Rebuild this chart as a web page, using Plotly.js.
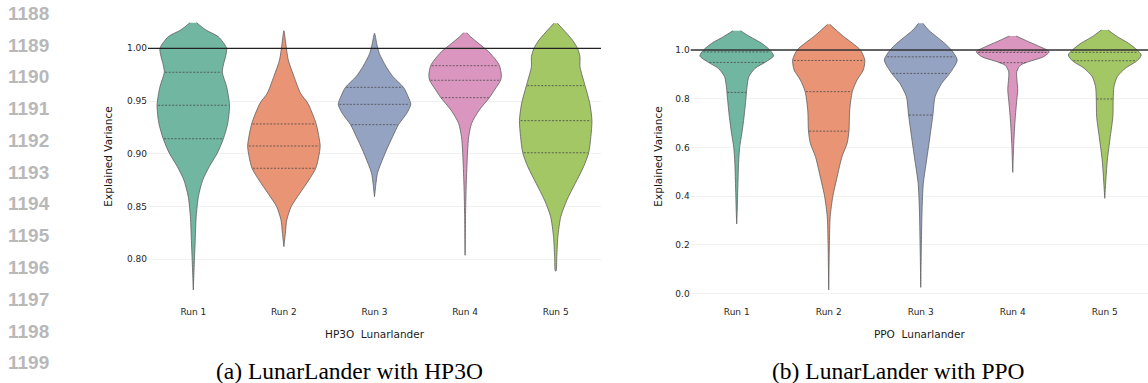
<!DOCTYPE html>
<html><head><meta charset="utf-8">
<script src="https://cdn.plot.ly/plotly-3.0.1.min.js"></script>
<style>html,body{margin:0;padding:0;background:#fff}</style>
</head><body><div id="chart" style="width:1148px;height:383px"></div>
<script>
// ---------------- data ----------------
const runLabels = ['Run 1', 'Run 2', 'Run 3', 'Run 4', 'Run 5'];
const palette = ['#71b6a1', '#e99575', '#95a3c3', '#db96c0', '#a2c764'];

// HP3O violin outlines: explained-variance levels and relative half-widths (density, max = 1)
const hp3oRun1Y = [1.0243, 1.0173, 1.0110, 1.0000, 0.9921, 0.9858, 0.9773, 0.9636, 0.9460, 0.9289, 0.9143, 0.9005, 0.8878, 0.8752, 0.8594, 0.8404, 0.8152, 0.7899, 0.7709];
const hp3oRun1W = [0.09, 0.35, 0.69, 0.92, 0.89, 0.84, 0.80, 0.92, 1.00, 0.95, 0.83, 0.66, 0.44, 0.26, 0.14, 0.08, 0.05, 0.02, 0.00];
const hp3oRun2Y = [1.0167, 1.0047, 0.9889, 0.9731, 0.9573, 0.9479, 0.9283, 0.9074, 0.8973, 0.8863, 0.8752, 0.8626, 0.8499, 0.8373, 0.8246, 0.8120];
const hp3oRun2W = [0.00, 0.05, 0.12, 0.28, 0.46, 0.66, 0.89, 1.00, 0.96, 0.88, 0.69, 0.44, 0.20, 0.08, 0.04, 0.00];
const hp3oRun3Y = [1.0142, 1.0047, 0.9953, 0.9826, 0.9731, 0.9630, 0.9541, 0.9469, 0.9384, 0.9276, 0.9162, 0.9036, 0.8910, 0.8815, 0.8720, 0.8593];
const hp3oRun3W = [0.00, 0.06, 0.13, 0.32, 0.51, 0.80, 0.93, 1.00, 0.89, 0.66, 0.50, 0.33, 0.18, 0.08, 0.04, 0.00];
const hp3oRun4Y = [1.0148, 1.0110, 1.0047, 0.9968, 0.9889, 0.9835, 0.9747, 0.9697, 0.9605, 0.9532, 0.9415, 0.9289, 0.9162, 0.9036, 0.8878, 0.8688, 0.8467, 0.8038];
const hp3oRun4W = [0.04, 0.15, 0.37, 0.65, 0.85, 0.95, 1.00, 0.98, 0.81, 0.67, 0.39, 0.18, 0.10, 0.07, 0.05, 0.03, 0.015, 0.00];
const hp3oRun5Y = [1.0237, 1.0173, 1.0079, 1.0000, 0.9921, 0.9826, 0.9646, 0.9479, 0.9314, 0.9162, 0.9010, 0.8878, 0.8720, 0.8562, 0.8404, 0.8214, 0.8025, 0.7889];
const hp3oRun5W = [0.05, 0.22, 0.46, 0.60, 0.67, 0.67, 0.81, 0.94, 1.00, 0.97, 0.91, 0.77, 0.54, 0.31, 0.14, 0.06, 0.03, 0.01];
const hp3oQ1     = [0.9143, 0.8863, 0.9276, 0.9532, 0.9010];
const hp3oMedian = [0.9460, 0.9074, 0.9469, 0.9697, 0.9314];
const hp3oQ3     = [0.9773, 0.9283, 0.9630, 0.9835, 0.9646];

// PPO violin outlines
const ppoRun1Y = [1.0793, 1.0547, 1.0274, 1.0000, 0.9754, 0.9494, 0.9249, 0.8905, 0.8494, 0.8000, 0.7263, 0.6582, 0.6000, 0.5351, 0.4666, 0.4000, 0.3435, 0.2860];
const ppoRun1W = [0.10, 0.36, 0.68, 0.90, 1.00, 0.77, 0.50, 0.33, 0.28, 0.25, 0.20, 0.14, 0.08, 0.05, 0.036, 0.023, 0.014, 0.00];
const ppoRun2Y = [1.1054, 1.0821, 1.0547, 1.0274, 1.0000, 0.9590, 0.9180, 0.8770, 0.8290, 0.7538, 0.6676, 0.6171, 0.5622, 0.4801, 0.3980, 0.3160, 0.2068, 0.0152];
const ppoRun2W = [0.03, 0.20, 0.41, 0.65, 0.86, 0.98, 0.94, 0.77, 0.64, 0.57, 0.55, 0.50, 0.36, 0.23, 0.11, 0.04, 0.018, 0.00];
const ppoRun3Y = [1.1095, 1.0821, 1.0547, 1.0274, 1.0000, 0.9590, 0.9044, 0.8633, 0.8084, 0.7333, 0.6442, 0.5486, 0.4530, 0.3435, 0.2068, 0.0260];
const ppoRun3W = [0.06, 0.21, 0.43, 0.65, 0.83, 0.99, 0.79, 0.57, 0.39, 0.33, 0.25, 0.16, 0.07, 0.036, 0.018, 0.00];
const ppoRun4Y = [1.0575, 1.0340, 1.0135, 0.9930, 0.9725, 0.9520, 0.9380, 0.9110, 0.8360, 0.7950, 0.7128, 0.6170, 0.4980];
const ppoRun4W = [0.09, 0.43, 0.74, 0.99, 0.84, 0.43, 0.21, 0.11, 0.135, 0.11, 0.063, 0.027, 0.00];
const ppoRun5Y = [1.0821, 1.0547, 1.0274, 1.0000, 0.9795, 0.9560, 0.9249, 0.8905, 0.8494, 0.7990, 0.7263, 0.6442, 0.5486, 0.4800, 0.3914];
const ppoRun5W = [0.09, 0.34, 0.65, 0.88, 0.99, 0.88, 0.56, 0.34, 0.25, 0.23, 0.22, 0.15, 0.07, 0.036, 0.00];
const ppoQ1     = [0.826, 0.667, 0.733, 0.948, 0.799];
const ppoMedian = [0.949, 0.829, 0.904, 0.990, 0.956];
const ppoQ3     = [0.992, 0.957, 0.972, 0.997, 0.9905];

const hp3oTicks = [0.80, 0.85, 0.90, 0.95, 1.00];
const ppoTicks = [0.0, 0.2, 0.4, 0.6, 0.8, 1.0];
const lineNumbers = ['1188','1189','1190','1191','1192','1193','1194','1195','1196','1197','1198','1199'];

// ---------------- drawing ----------------
const HALF = 0.4;
const OUTLINE = '#5e5e5e';

function widthAt(ys, ws, q) {
  for (let k = 0; k < ys.length - 1; k++) {
    if (ys[k] >= q && q >= ys[k + 1]) {
      const t = (ys[k] - q) / (ys[k] - ys[k + 1]);
      return ws[k] + t * (ws[k + 1] - ws[k]);
    }
  }
  return 0;
}

const traces = [];
function addViolin(xa, ya, i, ys, ws, color, quarts) {
  const xs = [], yy = [];
  for (let k = 0; k < ys.length; k++) { xs.push(i + ws[k] * HALF); yy.push(ys[k]); }
  for (let k = ys.length - 1; k >= 0; k--) { xs.push(i - ws[k] * HALF); yy.push(ys[k]); }
  traces.push({
    type: 'scatter', mode: 'lines', x: xs, y: yy, xaxis: xa, yaxis: ya,
    fill: 'toself', fillcolor: color,
    line: {color: OUTLINE, width: 0.8, shape: 'spline', smoothing: 0.7},
    hoverinfo: 'skip', showlegend: false
  });
  quarts.forEach(q => {
    const w = widthAt(ys, ws, q) * HALF * 0.97;
    traces.push({
      type: 'scatter', mode: 'lines', x: [i - w, i + w], y: [q, q], xaxis: xa, yaxis: ya,
      line: {color: '#4a4a4a', width: 0.8, dash: '2px,1.5px'},
      hoverinfo: 'skip', showlegend: false
    });
  });
}

const hp3oY = [hp3oRun1Y, hp3oRun2Y, hp3oRun3Y, hp3oRun4Y, hp3oRun5Y];
const hp3oW = [hp3oRun1W, hp3oRun2W, hp3oRun3W, hp3oRun4W, hp3oRun5W];
const ppoY = [ppoRun1Y, ppoRun2Y, ppoRun3Y, ppoRun4Y, ppoRun5Y];
const ppoW = [ppoRun1W, ppoRun2W, ppoRun3W, ppoRun4W, ppoRun5W];

for (let i = 0; i < 5; i++) {
  addViolin('x', 'y', i, hp3oY[i], hp3oW[i], palette[i], [hp3oQ1[i], hp3oMedian[i], hp3oQ3[i]]);
  addViolin('x2', 'y2', i, ppoY[i], ppoW[i], palette[i], [ppoQ1[i], ppoMedian[i], ppoQ3[i]]);
}

const W = 1148, H = 383;
const px = v => v / W;
const py = v => (H - v) / H;
const tickFont = {family: 'DejaVu Sans', size: 9, color: '#262626'};
const titleFont = {family: 'DejaVu Sans', size: 10.5, color: '#1a1a1a'};
const yDomain = [py(298), py(15)];

const annotations = lineNumbers.map((t, k) => ({
  text: t, xref: 'paper', yref: 'paper', x: px(6), y: py(13.3 + k * 31.77),
  xanchor: 'left', yanchor: 'middle', showarrow: false,
  font: {family: 'Liberation Sans', size: 19, color: '#b8b8b8', weight: 'bold'}
}));
annotations.push({
  text: '(a) LunarLander with HP3O', xref: 'paper', yref: 'paper', x: px(349), y: py(371),
  xanchor: 'center', yanchor: 'middle', showarrow: false,
  font: {family: 'Liberation Serif', size: 23.5, color: '#000'}
});
annotations.push({
  text: '(b) LunarLander with PPO', xref: 'paper', yref: 'paper', x: px(898), y: py(371),
  xanchor: 'center', yanchor: 'middle', showarrow: false,
  font: {family: 'Liberation Serif', size: 23.5, color: '#000'}
});

const commonX = {
  tickvals: [0, 1, 2, 3, 4], ticktext: runLabels, showgrid: false, zeroline: false,
  showline: false, ticks: '', tickfont: tickFont, automargin: false, fixedrange: true,
  ticklabelstandoff: 7
};
const layout = {
  width: W, height: H, margin: {l: 0, r: 0, t: 0, b: 0},
  paper_bgcolor: '#fff', plot_bgcolor: '#fff', showlegend: false,
  xaxis: Object.assign({}, commonX, {
    domain: [px(148), px(601)], range: [-0.5, 4.5], anchor: 'y',
    title: {text: 'HP3O\u00a0 Lunarlander', font: titleFont, standoff: 14}
  }),
  xaxis2: Object.assign({}, commonX, {
    domain: [px(690.7), 1], range: [-0.5, 4.47], anchor: 'y2',
    title: {text: 'PPO\u00a0 Lunarlander', font: titleFont, standoff: 14}
  }),
  yaxis: {
    domain: yDomain, range: [0.76332, 1.03156], anchor: 'x',
    tickvals: hp3oTicks, tickformat: '.2f', showgrid: true, gridcolor: '#eeeeee', gridwidth: 0.8,
    zeroline: false, showline: false, ticks: '', tickfont: tickFont, automargin: false, fixedrange: true,
    title: {text: 'Explained Variance', font: titleFont, standoff: 12}
  },
  yaxis2: {
    domain: yDomain, range: [-0.01764, 1.14362], anchor: 'x2',
    tickvals: ppoTicks, tickformat: '.1f', showgrid: true, gridcolor: '#eeeeee', gridwidth: 0.8,
    zeroline: false, showline: false, ticks: '', tickfont: tickFont, automargin: false, fixedrange: true,
    title: {text: 'Explained Variance', font: titleFont, standoff: 10}
  },
  shapes: [
    {type: 'line', xref: 'x domain', yref: 'y', x0: 0, x1: 1, y0: 1, y1: 1, layer: 'above', line: {color: '#222', width: 1.2}},
    {type: 'line', xref: 'x2 domain', yref: 'y2', x0: 0, x1: 1, y0: 1, y1: 1, layer: 'above', line: {color: '#333', width: 1.3}}
  ],
  annotations: annotations
};

Plotly.newPlot('chart', traces, layout, {displayModeBar: false, staticPlot: true});
</script>
</body></html>
